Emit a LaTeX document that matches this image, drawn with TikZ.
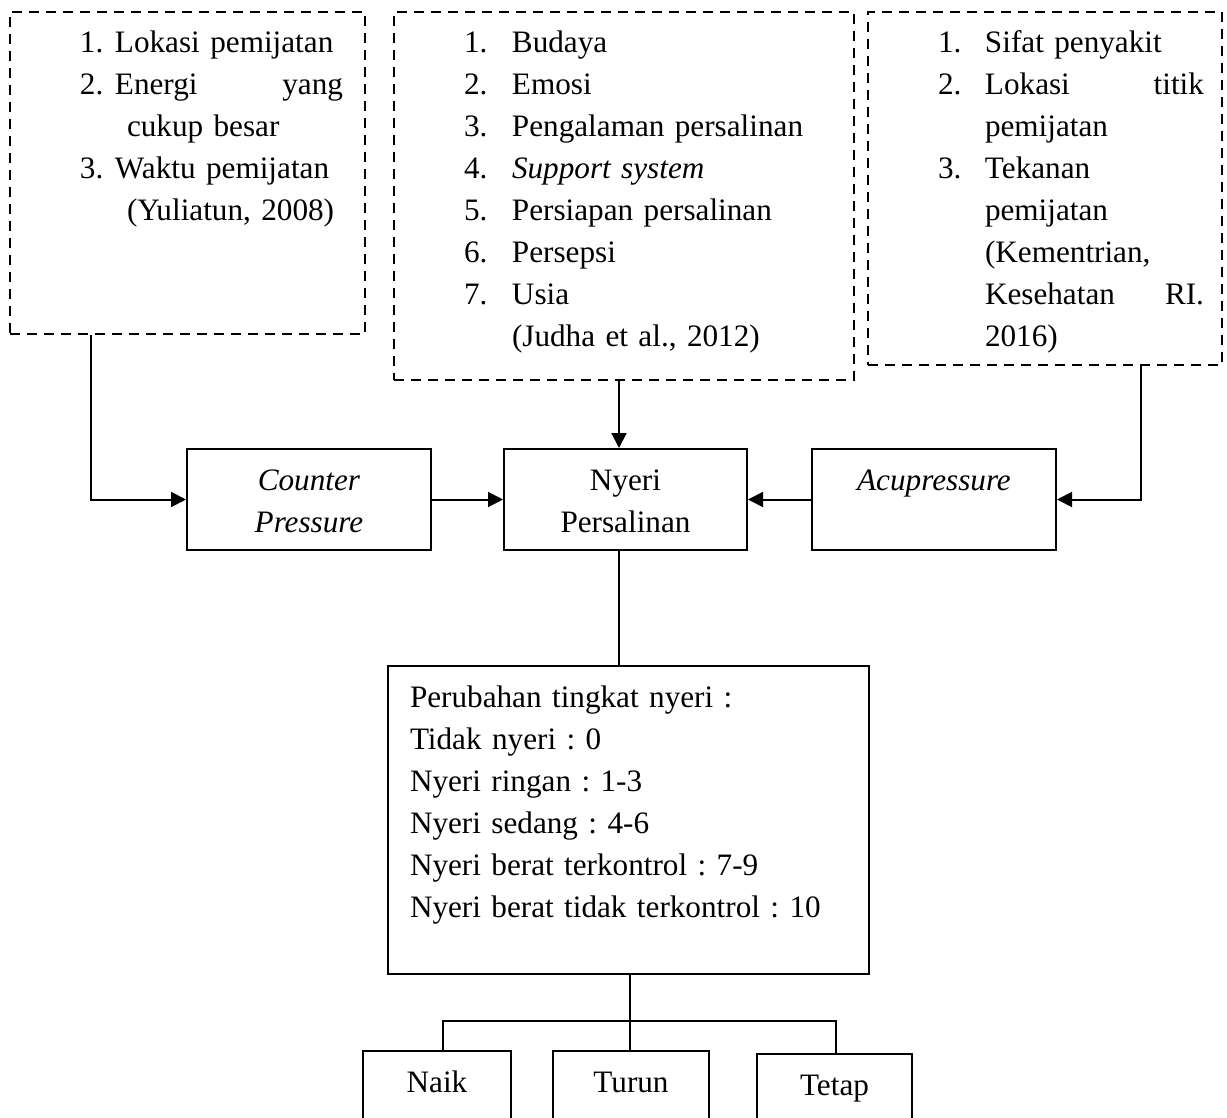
\documentclass[tikz,border=0pt]{standalone}
\usepackage{fontspec}
\setmainfont{Liberation Serif}
\usetikzlibrary{arrows.meta, positioning}
\frenchspacing
\newcommand{\nr}[2]{\makebox[#1][l]{#2}}
\newcommand{\spread}{\hspace{0pt plus 1filll}}
\tikzset{%
  >={Triangle[width=7.5pt,length=7.5pt]},
  % Specifications for style of nodes:
	base/.style = {draw, line width=1pt, inner ysep=0pt, text height=20.5pt},
	factor/.style = {base, dash pattern=on 5pt off 3.5pt, align=left, inner xsep=11pt},
	listbox/.style = {base, align=left, inner xsep=11pt},
	process/.style = {base, align=center, inner xsep=5pt},
	norm/.style={->, draw, black, line width=1pt},
	link/.style={draw, black, line width=1pt}
}
\begin{document}
\begin{tikzpicture}[
    x=0.5pt, y=-0.5pt,              % one unit = one pixel of the page
    font=\fontsize{15.6}{21}\selectfont
]
  \useasboundingbox (0,0) rectangle (1227,1118);
  % Specification of nodes (position, etc.)
  \node (fac1) [factor, anchor=north west, text width=155.5pt, text depth=140.5pt] at (9,11) {%
    \hspace*{24pt}\nr{17.5pt}{1.}Lokasi pemijatan\\
    \hspace*{24pt}\nr{17.5pt}{2.}Energi\spread yang\\
    \hspace*{47.5pt}cukup besar\\
    \hspace*{24pt}\nr{17.5pt}{3.}Waktu pemijatan\\
    \hspace*{47.5pt}(Yuliatun, 2008)};
  \node (fac2) [factor, anchor=north west, text width=208pt, text depth=163.5pt] at (393,11) {%
    \hspace*{24pt}\nr{24pt}{1.}Budaya\\
    \hspace*{24pt}\nr{24pt}{2.}Emosi\\
    \hspace*{24pt}\nr{24pt}{3.}Pengalaman persalinan\\
    \hspace*{24pt}\nr{24pt}{4.}\textit{Support system}\\
    \hspace*{24pt}\nr{24pt}{5.}Persiapan persalinan\\
    \hspace*{24pt}\nr{24pt}{6.}Persepsi\\
    \hspace*{24pt}\nr{24pt}{7.}Usia\\
    \hspace*{48pt}(Judha et al., 2012)};
  \node (fac3) [factor, anchor=north west, inner xsep=9pt, text width=159pt, text depth=156pt] at (867,11) {%
    \hspace*{26pt}\nr{23.5pt}{1.}Sifat penyakit\\
    \hspace*{26pt}\nr{23.5pt}{2.}Lokasi\spread titik\\
    \hspace*{49.5pt}pemijatan\\
    \hspace*{26pt}\nr{23.5pt}{3.}Tekanan\\
    \hspace*{49.5pt}pemijatan\\
    \hspace*{49.5pt}(Kementrian,\\
    \hspace*{49.5pt}Kesehatan\spread RI.\\
    \hspace*{49.5pt}2016)};

  \node (nyeri) [process, anchor=north west, text width=111.5pt, text depth=30pt] at (503,448) {Nyeri\\Persalinan};
  \node (counter) [process, left=35.5pt of nyeri, text width=112pt, text depth=30pt] {\textit{Counter}\\\textit{Pressure}};
  \node (acup) [process, right=31.5pt of nyeri, text width=112pt, text depth=30pt] {\textit{Acupressure}};

  \node (change) [listbox, anchor=north west, text width=218.5pt, text depth=133.5pt] at (387,665) {%
    Perubahan tingkat nyeri :\\
    Tidak nyeri : 0\\
    Nyeri ringan : 1-3\\
    Nyeri sedang : 4-6\\
    Nyeri berat terkontrol : 7-9\\
    Nyeri berat tidak terkontrol : 10};

  \node (turun) [process, anchor=north west, text width=68pt, text depth=25pt] at (552,1050) {Turun};
  \node (naik) [process, left=20pt of turun, text width=64pt, text depth=25pt] {Naik};
  \node (tetap) [process, right=23pt of turun, yshift=-1.5pt, text width=67.5pt, text depth=25pt] {Tetap};

  % connectors
  \coordinate (c1) at ([xshift=41pt]fac1.south west);
  \coordinate (c2) at ([xshift=113pt]fac2.south west);
  \coordinate (c3) at ([xshift=-41pt]fac3.south east);
  \coordinate (bar) at ([yshift=14.5pt]turun.north);

  \draw [norm] (c1) |- (counter.west);
  \draw [norm] (c2) -- (c2 |- nyeri.north);
  \draw [norm] (c3) |- (acup.east);
  \draw [norm] (counter.east) -- (nyeri.west);
  \draw [norm] (acup.west) -- (nyeri.east);

  \draw [link] (c2 |- nyeri.south) -- (c2 |- change.north);
  \draw [link] ([xshift=-0.5pt]turun.north |- change.south) -- ([xshift=-0.5pt]turun.north);
  \draw [link] ([xshift=3pt]naik.north) |- (bar) -| ([xshift=0.75pt]tetap.north);
\end{tikzpicture}
\end{document}
